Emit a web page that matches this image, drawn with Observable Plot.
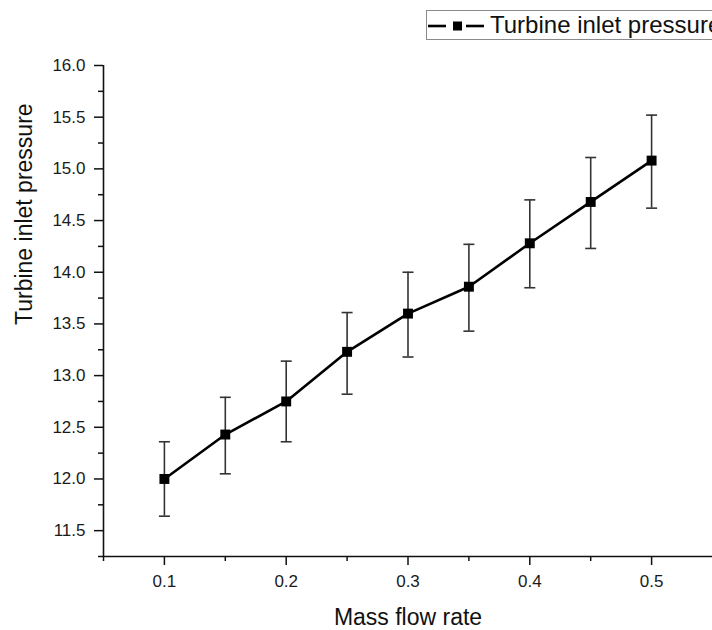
<!DOCTYPE html>
<html>
<head>
<meta charset="utf-8">
<script src="https://cdn.jsdelivr.net/npm/d3@7"></script>
<script src="https://cdn.jsdelivr.net/npm/@observablehq/plot@0.6"></script>
<style>
  html, body { margin: 0; padding: 0; background: #fff; overflow: hidden; width: 712px; height: 630px; }
  #wrap { position: relative; width: 712px; height: 630px; font-family: Arial, "Liberation Sans", sans-serif; }
  #legend { position: absolute; left: 426px; top: 10px; width: 320px; height: 28px; border: 1px solid #8a8a8a; background: #fff; }
  #legend svg { position: absolute; left: 0; top: 0; }
  #legend span { position: absolute; left: 63px; top: 0px; font-size: 24px; line-height: 28px; color: #111; white-space: nowrap; }
</style>
</head>
<body>
<div id="wrap"></div>
<script>
// ---- data ----
const massFlow = [0.1, 0.15, 0.2, 0.25, 0.3, 0.35, 0.4, 0.45, 0.5];
const pressure = [12.0, 12.43, 12.75, 13.23, 13.60, 13.86, 14.28, 14.68, 15.08];
const errLow   = [11.64, 12.05, 12.36, 12.82, 13.18, 13.43, 13.85, 14.23, 14.62];
const errHigh  = [12.36, 12.79, 13.14, 13.61, 14.00, 14.27, 14.70, 15.11, 15.52];

const xMajor = [0.1, 0.2, 0.3, 0.4, 0.5];
const xMinor = [0.05, 0.15, 0.25, 0.35, 0.45];
const yMajor = [11.5, 12.0, 12.5, 13.0, 13.5, 14.0, 14.5, 15.0, 15.5, 16.0];
const yMinor = [11.25, 11.75, 12.25, 12.75, 13.25, 13.75, 14.25, 14.75, 15.25, 15.75];
const xDomain = [0.05, 0.55];
const yDomain = [11.25, 16.0];

const seriesName = "Turbine inlet pressure";
const xTitle = "Mass flow rate";
const yTitle = "Turbine inlet pressure";

const data = massFlow.map((x, i) => ({x, y: pressure[i], lo: errLow[i], hi: errHigh[i]}));

const capSymbol = {
  draw(ctx, size) {
    const w = Math.sqrt(size / Math.PI);
    ctx.moveTo(-w, 0);
    ctx.lineTo(w, 0);
  }
};

const font = 'Arial, "Liberation Sans", sans-serif';
const fmt = d3.format(".1f");

const chart = Plot.plot({
  width: 712,
  height: 630,
  marginLeft: 103,
  marginTop: 65,
  marginBottom: 74,
  marginRight: 0,
  style: {fontFamily: font, background: "#fff", color: "#1a1a1a"},
  x: {domain: xDomain},
  y: {domain: yDomain},
  marks: [
    Plot.axisX({ticks: xMajor, tickSize: 9, tickFormat: () => "", strokeWidth: 1.5, stroke: "#111", label: null}),
    Plot.axisX({ticks: xMinor, tickSize: 5, tickFormat: () => "", strokeWidth: 1.5, stroke: "#111", label: null}),
    Plot.axisY({ticks: yMajor, tickSize: 9, tickFormat: () => "", strokeWidth: 1.5, stroke: "#111", label: null}),
    Plot.axisY({ticks: yMinor, tickSize: 5, tickFormat: () => "", strokeWidth: 1.5, stroke: "#111", label: null}),
    Plot.text(xMajor, {x: d => d, frameAnchor: "bottom", lineAnchor: "top", dy: 18, text: fmt, fontSize: 17, fill: "#1a1a1a"}),
    Plot.text(yMajor, {y: d => d, frameAnchor: "left", textAnchor: "end", dx: -18, text: fmt, fontSize: 17, fill: "#1a1a1a"}),
    Plot.ruleX([xDomain[0]], {stroke: "#111", strokeWidth: 1.6}),
    Plot.ruleY([yDomain[0]], {stroke: "#111", strokeWidth: 1.6}),
    Plot.ruleX(data, {x: "x", y1: "lo", y2: "hi", stroke: "#333", strokeWidth: 1.6}),
    Plot.dot(data, {x: "x", y: "lo", symbol: capSymbol, r: 5.5, stroke: "#333", strokeWidth: 1.6, fill: "none"}),
    Plot.dot(data, {x: "x", y: "hi", symbol: capSymbol, r: 5.5, stroke: "#333", strokeWidth: 1.6, fill: "none"}),
    Plot.line(data, {x: "x", y: "y", stroke: "#000", strokeWidth: 2.6}),
    Plot.dot(data, {x: "x", y: "y", symbol: "square", r: 5.6, fill: "#000", stroke: "none"}),
    Plot.text([xTitle], {frameAnchor: "bottom", lineAnchor: "top", dy: 52, fontSize: 23, fill: "#111"}),
    Plot.text([yTitle], {frameAnchor: "left", rotate: -90, dx: -79, dy: 14, fontSize: 23, fill: "#111"})
  ]
});

const wrap = document.getElementById("wrap");
wrap.appendChild(chart);

// legend
const legend = document.createElement("div");
legend.id = "legend";
legend.innerHTML = `<svg width="60" height="28">
  <line x1="1" x2="19" y1="15" y2="15" stroke="#000" stroke-width="2.6"></line>
  <rect x="26" y="10.5" width="9" height="9" fill="#000"></rect>
  <line x1="39" x2="57" y1="15" y2="15" stroke="#000" stroke-width="2.6"></line>
</svg><span></span>`;
legend.querySelector("span").textContent = seriesName;
wrap.appendChild(legend);
</script>
</body>
</html>
